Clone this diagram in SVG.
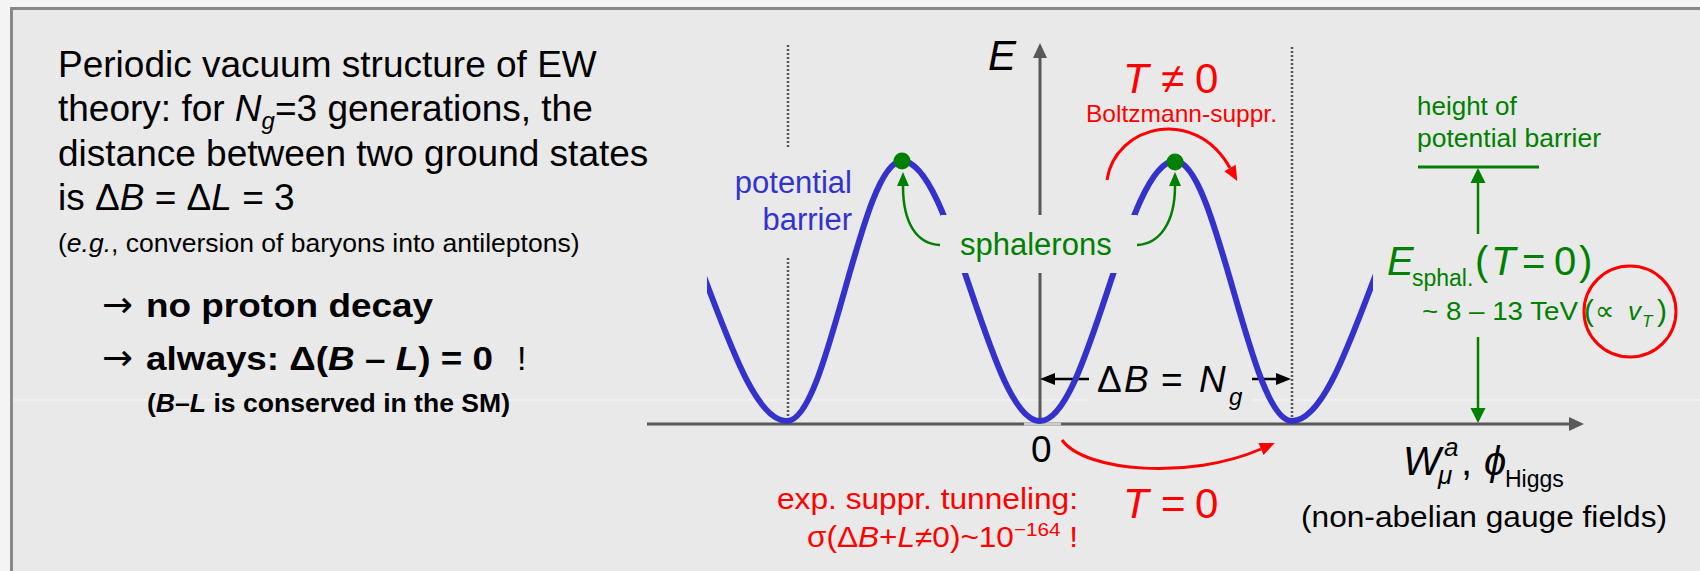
<svg xmlns="http://www.w3.org/2000/svg" width="1700" height="571" viewBox="0 0 1700 571">
<defs>
<style>
text{font-family:"Liberation Sans",Arial,"DejaVu Sans",sans-serif}
text.arw{font-family:"DejaVu Sans","Liberation Sans",sans-serif}
.it{font-style:italic}
.b{font-weight:bold}
.blk{fill:#000}
.red{fill:#ff0000}
.grn{fill:#008000}
.blu{fill:#3333cc}
.axis{stroke:#595959;stroke-width:3;fill:none}
.dot{stroke:#555;stroke-width:2.5;stroke-dasharray:2 2;fill:none}
.curve{stroke:#3333cc;stroke-width:6;fill:none}
.rarc{stroke:#ff0000;stroke-width:3;fill:none}
.garr{stroke:#008000;stroke-width:2.5;fill:none}
.barr{stroke:#000;stroke-width:2.5;fill:none}
</style>
<marker id="mAxis" markerUnits="userSpaceOnUse" markerWidth="20" markerHeight="20" refX="0" refY="7" orient="auto" overflow="visible"><path d="M0,0 L15,7 L0,14 z" fill="#595959"/></marker>
<marker id="mRed" markerUnits="userSpaceOnUse" markerWidth="20" markerHeight="20" refX="0" refY="6.5" orient="auto" overflow="visible"><path d="M0,0 L15,6.5 L0,13 z" fill="#ff0000"/></marker>
<marker id="mGrn" markerUnits="userSpaceOnUse" markerWidth="20" markerHeight="20" refX="0" refY="7.5" orient="auto" overflow="visible"><path d="M0,0 L15,7.5 L0,15 z" fill="#008000"/></marker>
<marker id="mGrnS" markerUnits="userSpaceOnUse" markerWidth="20" markerHeight="20" refX="0" refY="6" orient="auto" overflow="visible"><path d="M0,0 L14,6 L0,12 z" fill="#008000"/></marker>
<marker id="mBlk" markerUnits="userSpaceOnUse" markerWidth="20" markerHeight="20" refX="0" refY="6" orient="auto" overflow="visible"><path d="M0,0 L15,6 L0,12 z" fill="#000"/></marker>
<clipPath id="cx"><rect x="707" y="0" width="666" height="571"/></clipPath>
</defs>

<g id="background">
<rect x="0" y="0" width="1700" height="571" fill="#f4f4f4"/>
<rect x="11.5" y="8.5" width="1700" height="600" fill="#e9e9e9" stroke="#888" stroke-width="3"/>
<line x1="13" y1="400" x2="1089" y2="400" stroke="#f7f7f7" stroke-width="1"/>
<line x1="1252" y1="400" x2="1700" y2="400" stroke="#f7f7f7" stroke-width="1"/>
</g>

<g id="left-text">
<text x="58" y="77" font-size="37" class="blk">Periodic vacuum structure of EW</text>
<text x="58" y="121" font-size="37" class="blk">theory: for <tspan class="it">N</tspan><tspan class="it" font-size="24" dy="8">g</tspan><tspan dy="-8">=3 generations, the</tspan></text>
<text x="58" y="166" font-size="37" class="blk">distance between two ground states</text>
<text x="58" y="210" font-size="37" class="blk">is Δ<tspan class="it">B</tspan> = Δ<tspan class="it">L</tspan> = 3</text>
<text x="58" y="252" font-size="26.5" class="blk">(<tspan class="it">e.g.</tspan>, conversion of baryons into antileptons)</text>
<text x="102" y="317" font-size="36" class="blk arw" textLength="31" lengthAdjust="spacingAndGlyphs">→</text>
<text x="146" y="317" font-size="34" class="blk b" textLength="287" lengthAdjust="spacingAndGlyphs">no proton decay</text>
<text x="102" y="370" font-size="36" class="blk arw" textLength="31" lengthAdjust="spacingAndGlyphs">→</text>
<text x="146" y="370" font-size="34" class="blk b" textLength="347" lengthAdjust="spacingAndGlyphs">always: Δ(<tspan class="it">B</tspan> – <tspan class="it">L</tspan>) = 0</text>
<text x="517" y="370" font-size="34" class="blk">!</text>
<text x="147" y="412" font-size="25" class="blk b" textLength="363" lengthAdjust="spacingAndGlyphs">(<tspan class="it">B</tspan>–<tspan class="it">L</tspan> is conserved in the SM)</text>
</g>

<g id="axes">
<line x1="647" y1="424" x2="1569" y2="424" class="axis" marker-end="url(#mAxis)"/>
<line x1="1040" y1="424" x2="1040" y2="58" class="axis" marker-end="url(#mAxis)"/>
<line x1="1024" y1="424" x2="1061" y2="424" stroke="#cdcdcd" stroke-width="3"/>
<line x1="788" y1="45" x2="788" y2="148" class="dot"/>
<line x1="788" y1="258" x2="788" y2="423" class="dot"/>
<line x1="1292" y1="47" x2="1292" y2="423" class="dot"/>
</g>

<g id="connectors">
<line x1="1089" y1="379" x2="1055" y2="379" class="barr" marker-end="url(#mBlk)"/>
<line x1="1252" y1="379" x2="1276" y2="379" class="barr" marker-end="url(#mBlk)"/>
</g>

<g id="potential">
<path class="curve" clip-path="url(#cx)" d="M632,161 C660.1,161 684.2,224.4 709.5,291 C734.8,357.6 758.9,421 787,421 C807.8,421 825.7,357.6 844.5,291 C863.3,224.4 881.2,161 902,161 C927,161 948.5,224.4 971,291 C993.5,357.6 1015,421 1040,421 C1064.4,421 1085.5,357.6 1107.5,291 C1129.5,224.4 1150.6,161 1175,161 C1196.2,161 1214.4,224.4 1233.5,291 C1252.6,357.6 1270.8,421 1292,421 C1320.1,421 1344.2,357.6 1369.5,291 C1394.8,224.4 1418.9,161 1447,161"/>
<rect x="941" y="215" width="196" height="58" fill="#e9e9e9"/>
</g>

<g id="arrows">
<path class="rarc" d="M1107,180 C1115,125 1195,105 1230,168" marker-end="url(#mRed)"/>
<path class="rarc" d="M1062,440 C1085,472 1190,480 1261,449" marker-end="url(#mRed)"/>
<path class="garr" d="M940,245 C916,244 903,222 903,186" marker-end="url(#mGrnS)"/>
<path class="garr" d="M1137,245 C1160,244 1175,222 1175,186" marker-end="url(#mGrnS)"/>
<line x1="1418" y1="167" x2="1539" y2="167" stroke="#008000" stroke-width="3"/>
<line x1="1478" y1="234" x2="1478" y2="183" class="garr" marker-end="url(#mGrn)"/>
<line x1="1478" y1="337" x2="1478" y2="408" class="garr" marker-end="url(#mGrn)"/>
<ellipse cx="1630" cy="311.5" rx="46" ry="45.5" fill="none" stroke="#ff0000" stroke-width="3"/>
</g>

<g id="sphaleron-points">
<circle cx="902" cy="161" r="8.5" fill="#008000"/>
<circle cx="1175" cy="162" r="8.5" fill="#008000"/>
</g>

<g id="labels">
<text x="988" y="70" font-size="42" class="blk it">E</text>
<text x="852" y="193" font-size="31" class="blu" text-anchor="end">potential</text>
<text x="852" y="230" font-size="31" class="blu" text-anchor="end">barrier</text>
<text x="960" y="255" font-size="31" class="grn">sphalerons</text>
<text y="93" font-size="42" class="red"><tspan x="1123" class="it">T</tspan><tspan x="1161">≠</tspan><tspan x="1195">0</tspan></text>
<text x="1086" y="122" font-size="24" class="red" textLength="191" lengthAdjust="spacingAndGlyphs">Boltzmann-suppr.</text>
<text x="1031" y="462" font-size="37" class="blk">0</text>
<text y="392" font-size="37" class="blk"><tspan x="1097">Δ</tspan><tspan x="1124" class="it">B</tspan><tspan x="1161">=</tspan><tspan x="1199" class="it">N</tspan><tspan x="1229" y="405" font-size="24" class="it">g</tspan></text>
<text y="518" font-size="42" class="red"><tspan x="1123" class="it">T</tspan><tspan x="1161">=</tspan><tspan x="1195">0</tspan></text>
<text x="777" y="509" font-size="29" class="red" textLength="301" lengthAdjust="spacingAndGlyphs">exp. suppr. tunneling:</text>
<text x="807" y="547" font-size="29" class="red" textLength="271" lengthAdjust="spacingAndGlyphs">σ(Δ<tspan class="it">B</tspan>+<tspan class="it">L</tspan>≠0)~10<tspan font-size="19" dy="-11">−164</tspan><tspan dy="11"> !</tspan></text>
<text x="1417" y="115" font-size="26" class="grn">height of</text>
<text x="1417" y="147" font-size="26" class="grn" textLength="184" lengthAdjust="spacingAndGlyphs">potential barrier</text>
<text x="1387" y="275" font-size="40" class="grn it">E</text>
<text x="1412" y="286" font-size="23" class="grn">sphal.</text>
<text y="275" font-size="40" class="grn"><tspan x="1475">(</tspan><tspan x="1491" class="it">T</tspan><tspan x="1522">=</tspan><tspan x="1554">0</tspan><tspan x="1579">)</tspan></text>
<text x="1422" y="320" font-size="26" class="grn" textLength="156" lengthAdjust="spacingAndGlyphs">~ 8 – 13 TeV</text>
<text y="321" font-size="30" class="grn"><tspan x="1584">(</tspan><tspan x="1595" font-size="27" y="320">∝</tspan><tspan x="1628" font-size="26" class="it" y="320">v</tspan><tspan x="1642" font-size="17" class="it" y="327">T</tspan><tspan x="1657" y="321">)</tspan></text>
<text x="1403" y="475" font-size="40" class="blk it">W</text>
<text x="1444" y="456" font-size="26" class="blk it">a</text>
<text x="1438" y="484" font-size="26" class="blk it">μ</text>
<text x="1461" y="475" font-size="40" class="blk">,</text>
<text x="1484" y="475" font-size="40" class="blk it">ϕ</text>
<text x="1505" y="487" font-size="23" class="blk">Higgs</text>
<text x="1301" y="527" font-size="30" class="blk" textLength="366" lengthAdjust="spacingAndGlyphs">(non-abelian gauge fields)</text>
</g>
</svg>
